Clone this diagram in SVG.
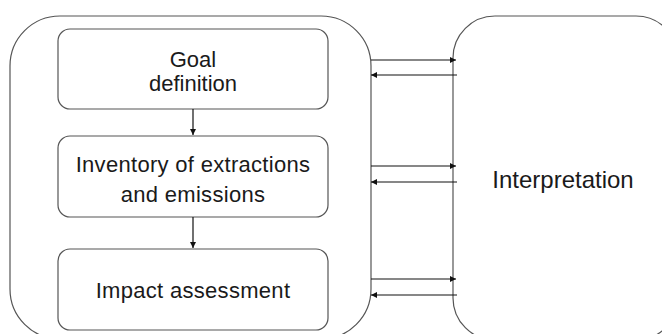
<svg xmlns="http://www.w3.org/2000/svg" width="662" height="334" viewBox="0 0 662 334">
<style>
.box{fill:#fff;stroke:#555;stroke-width:1.2}
.ln{stroke:#111;stroke-width:1.2;fill:none}
text{font-family:"Liberation Sans",Arial,sans-serif;font-size:22px;fill:#1a1a1a;text-anchor:middle}
</style>
<defs>
<marker id="ah" viewBox="0 0 10 10" refX="10" refY="5" markerWidth="7" markerHeight="6" markerUnits="userSpaceOnUse" orient="auto"><path d="M0,0 L10,5 L0,10 Z" fill="#111"/></marker>
</defs>
<rect width="662" height="334" fill="#fff"/>
<g id="lca-frame"><rect class="box" x="10" y="16" width="361" height="323" rx="50"/></g>
<g id="interpretation"><rect class="box" x="453" y="16" width="225" height="324" rx="42"/><text x="563" y="188" style="font-size:24px">Interpretation</text></g>
<g id="goal"><rect class="box" x="58" y="29" width="270" height="80" rx="12"/><text x="193" y="67">Goal</text><text x="193" y="91">definition</text></g>
<g id="inventory"><rect class="box" x="58" y="136" width="270" height="81" rx="12"/><text x="193" y="172" letter-spacing="0.3">Inventory of extractions</text><text x="193" y="202" letter-spacing="0.3">and emissions</text></g>
<g id="impact"><rect class="box" x="58" y="249" width="270" height="81" rx="12"/><text x="193" y="298" letter-spacing="0.3">Impact assessment</text></g>
<g id="connectors">
<line class="ln" x1="193" y1="109" x2="193" y2="135" marker-end="url(#ah)"/>
<line class="ln" x1="193" y1="217" x2="193" y2="248" marker-end="url(#ah)"/>
<line class="ln" x1="371" y1="60" x2="456" y2="60" marker-end="url(#ah)"/>
<line class="ln" x1="457" y1="75" x2="371" y2="75" marker-end="url(#ah)"/>
<line class="ln" x1="371" y1="166" x2="456" y2="166" marker-end="url(#ah)"/>
<line class="ln" x1="457" y1="182" x2="371" y2="182" marker-end="url(#ah)"/>
<line class="ln" x1="371" y1="279" x2="456" y2="279" marker-end="url(#ah)"/>
<line class="ln" x1="457" y1="295" x2="371" y2="295" marker-end="url(#ah)"/>
</g>
</svg>
